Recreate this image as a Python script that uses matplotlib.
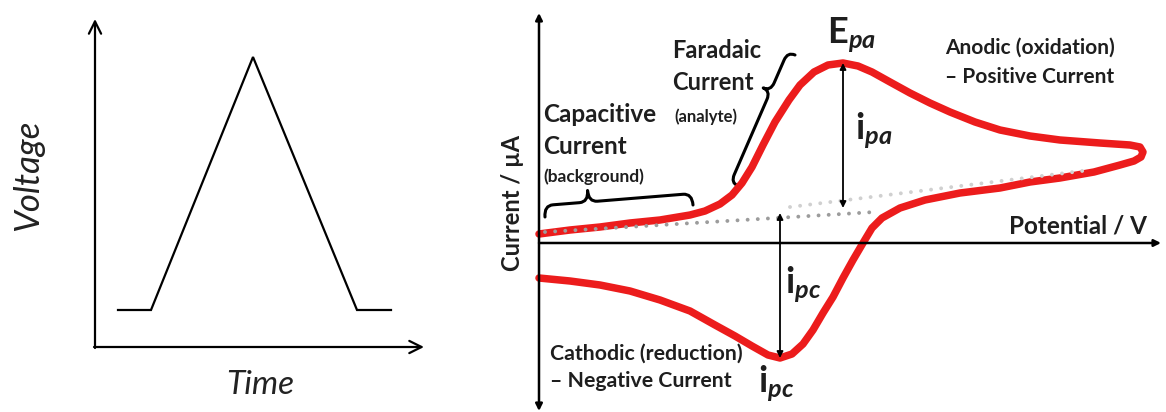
import numpy as np
import matplotlib.pyplot as plt
from matplotlib.path import Path
from matplotlib.patches import PathPatch

plt.rcParams['font.family'] = ['Lato', 'DejaVu Sans']
plt.rcParams['mathtext.fontset'] = 'custom'
plt.rcParams['mathtext.rm'] = 'Lato:bold'
plt.rcParams['mathtext.it'] = 'Lato:italic:bold'
plt.rcParams['mathtext.bf'] = 'Lato:bold'

# triangular potential waveform (time, voltage)
wave_t = [23, 56, 158, 262, 296]
wave_v = [37, 37, 290, 37, 37]

# cyclic voltammogram, forward (anodic) scan
fwd_E = [0, 31, 61, 91, 121, 151, 166, 181, 193, 203, 213, 224, 236, 250, 261,
         275, 289, 304, 319, 333, 351, 371, 391, 411, 436, 461, 491, 521, 561,
         591, 601, 604, 602, 595]
fwd_i = [9, 13, 16, 20, 23, 28, 32, 39, 48, 60, 76, 98, 121, 143, 158,
         171, 178, 180, 177, 171, 161, 150, 140, 131, 121, 113, 107, 103, 100,
         98, 96, 91, 86, 82]
# reverse (cathodic) scan
rev_E = [581, 555, 521, 491, 461, 421, 386, 361, 343, 333, 324, 314, 304, 294,
         284, 274, 264, 253, 241, 229, 213, 196, 176, 151, 121, 91, 61, 31, 0]
rev_i = [78, 71, 65, 61, 55, 50, 43, 35, 25, 15, 0, -17, -35, -54,
         -70, -87, -101, -111, -115, -112, -103, -93, -82, -68, -57, -48, -42, -38, -35]

# extrapolated baselines
base_fwd_E = [6, 336]
base_fwd_i = [11, 31]
base_rev_E = [251, 551]
base_rev_i = [36, 73]

E_pa, i_pa_top, i_pa_base = 304, 180, 35
E_pc, i_pc_bot, i_pc_base = 241, -115, 30

RED = '#ec1c1c'
INK = '#1e1e1e'


def brace(ax, start, end, width, tip=0.5, curl=9, lw=2.2):
    p0 = np.array(start, float)
    p1 = np.array(end, float)
    u = p1 - p0
    L = np.hypot(*u)
    u /= L
    n = np.array([-u[1], u[0]])
    h = width / 2
    m = tip * L

    def pt(s, t):
        return p0 + s * u + t * n

    verts = [pt(0, 0), pt(0, h), pt(curl, h), pt(m - curl, h), pt(m, h),
             pt(m, width), pt(m, h), pt(m + curl, h), pt(L - curl, h),
             pt(L, h), pt(L, 0)]
    codes = [Path.MOVETO, Path.CURVE3, Path.CURVE3, Path.LINETO, Path.CURVE3,
             Path.CURVE3, Path.CURVE3, Path.CURVE3, Path.LINETO,
             Path.CURVE3, Path.CURVE3]
    ax.add_patch(PathPatch(Path(verts, codes), fill=False, lw=lw,
                           edgecolor='k', capstyle='round', joinstyle='round'))


def arrow(ax, start, end, style, lw, scale):
    ax.annotate('', xy=end, xytext=start,
                arrowprops=dict(arrowstyle=style, lw=lw, color='k',
                                shrinkA=0, shrinkB=0, mutation_scale=scale))


fig = plt.figure(figsize=(11.66, 4.12), dpi=100)

# left: applied potential vs time
ax1 = fig.add_axes([0, 0, 500 / 1166, 1])
ax1.set_xlim(-95, 405)
ax1.set_ylim(-65, 347)
ax1.axis('off')
ax1.plot(wave_t, wave_v, color='k', lw=1.6, solid_joinstyle='miter')
arrow(ax1, (0, -1), (0, 328), '->', 1.6, 22)
arrow(ax1, (-1, 0), (329, 0), '->', 1.6, 22)
ax1.text(-67, 172, 'Voltage', rotation=90, ha='center', va='center',
         fontsize=25, style='italic', fontweight='normal', color='#222')
ax1.text(165, -38, 'Time', ha='center', va='center',
         fontsize=24, style='italic', fontweight='normal', color='#222')

# right: cyclic voltammogram
ax2 = fig.add_axes([500 / 1166, 0, 666 / 1166, 1])
ax2.set_xlim(-39, 627)
ax2.set_ylim(-169, 243)
ax2.axis('off')

arrow(ax2, (0, -168), (0, 230), '<|-|>', 1.8, 10)
arrow(ax2, (0, 0), (622, 0), '-|>', 1.8, 10)

ax2.plot(fwd_E + rev_E, fwd_i + rev_i, color=RED, lw=5.4,
         solid_capstyle='round', solid_joinstyle='round')
ax2.plot(base_fwd_E, base_fwd_i, color='#9c9c9c', lw=2.8,
         linestyle=(0, (0.01, 2.6)), dash_capstyle='round')
ax2.plot(base_rev_E, base_rev_i, color='#d0d0d0', lw=2.8,
         linestyle=(0, (0.01, 2.6)), dash_capstyle='round')

arrow(ax2, (E_pa, i_pa_base), (E_pa, i_pa_top), '<|-|>', 1.3, 9)
arrow(ax2, (E_pc, i_pc_base), (E_pc, i_pc_bot), '<|-|>', 1.3, 9)

brace(ax2, (6, 26), (154, 38), 23, tip=0.3)
brace(ax2, (199, 57), (256, 188), 16, tip=0.7)

bold = dict(fontweight='bold', color=INK)
ax2.text(-26, 40, 'Current / µA', rotation=90, ha='center', va='center',
         fontsize=17, **bold)
ax2.text(608, 9, 'Potential / V', ha='right', va='baseline', fontsize=17.5, **bold)
ax2.text(406, 195, 'Anodic (oxidation)', ha='left', va='center', fontsize=15, **bold)
ax2.text(406, 166, '– Positive Current', ha='left', va='center', fontsize=15, **bold)
ax2.text(133, 192, 'Faradaic', ha='left', va='center', fontsize=17, **bold)
ax2.text(133, 161, 'Current', ha='left', va='center', fontsize=17, **bold)
ax2.text(135, 126, '(analyte)', ha='left', va='center', fontsize=12, **bold)
ax2.text(4, 128, 'Capacitive', ha='left', va='center', fontsize=17.5, **bold)
ax2.text(4, 96, 'Current', ha='left', va='center', fontsize=17.5, **bold)
ax2.text(4, 66, '(background)', ha='left', va='center', fontsize=12.5, **bold)
ax2.text(11, -111, 'Cathodic (reduction)', ha='left', va='center', fontsize=15.3, **bold)
ax2.text(11, -138, '– Negative Current', ha='left', va='center', fontsize=15.3, **bold)

ax2.text(288, 208, r'$\mathrm{E}_{pa}$', ha='left', va='center', fontsize=26, color=INK)
ax2.text(316, 112, r'$\mathrm{i}_{pa}$', ha='left', va='center', fontsize=26, color=INK)
ax2.text(246, -42, r'$\mathrm{i}_{pc}$', ha='left', va='center', fontsize=26, color=INK)
ax2.text(219, -141, r'$\mathrm{i}_{pc}$', ha='left', va='center', fontsize=26, color=INK)

fig.savefig('out.png', dpi=100)
